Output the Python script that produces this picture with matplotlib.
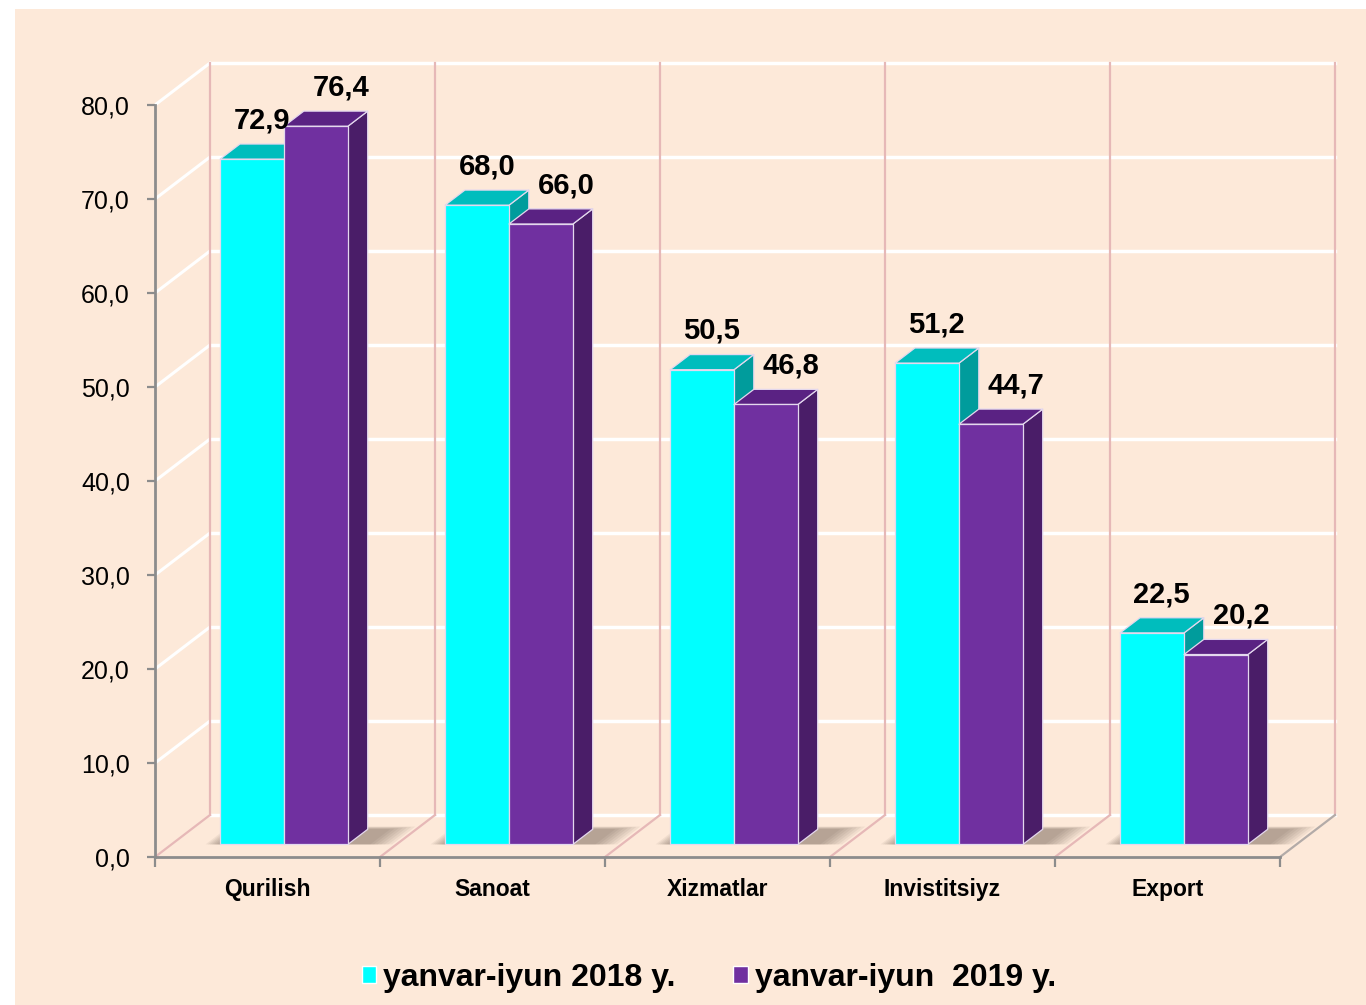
import numpy as np
import matplotlib.pyplot as plt
from matplotlib.patches import Polygon, Patch, Rectangle

categories = ['Qurilish', 'Sanoat', 'Xizmatlar', 'Invistitsiyz', 'Export']
vals_2018 = [72.9, 68.0, 50.5, 51.2, 22.5]
vals_2019 = [76.4, 66.0, 46.8, 44.7, 20.2]
series_names = ['yanvar-iyun 2018 y.', 'yanvar-iyun  2019 y.']
yticks = np.arange(0, 81, 10)

bg = '#FDE9D9'
pink = '#E6B8B7'
axis_gray = '#8C8C8C'
# front / top / side colours for each series
cols = [('#00FFFF', '#00BDBD', '#009C9C'),
        ('#7030A0', '#5A2283', '#4A1D68')]

plt.rcParams['font.family'] = ['Liberation Sans', 'DejaVu Sans']

fig = plt.figure(figsize=(13.66, 10.05), dpi=100, facecolor='white')
fig.add_artist(Rectangle((15 / 1366, 0), 1, (1005 - 9) / 1005,
                         transform=fig.transFigure, facecolor=bg,
                         edgecolor='none', zorder=-10))

ax = fig.add_axes([155 / 1366, 148 / 1005, 1125 / 1366, 752 / 1005])
ax.set_xlim(0, 5)
ax.set_ylim(0, 80)
ax.patch.set_visible(False)

# depth vector (data units) for the fake 3d look
DX = 55 / 225
DY = 42 / 9.4


def proj(x, v, d):
    return (x + d * DX, v + d * DY)


# back wall + side wall + floor
for v in yticks:
    a, b = proj(0, v, 1), proj(5, v, 1)
    ax.plot([a[0], b[0]], [a[1], b[1]], color='white', lw=2.5, zorder=1, clip_on=False)
    if v > 0:
        c = proj(0, v, 0)
        ax.plot([c[0], a[0]], [c[1], a[1]], color='white', lw=2.2, zorder=1, clip_on=False)
for i in range(6):
    a, b = proj(i, 0, 1), proj(i, 80, 1)
    ax.plot([a[0], b[0]], [a[1], b[1]], color=pink, lw=1.6, zorder=1.1, clip_on=False)
    c = proj(i, 0, 0)
    ax.plot([c[0], a[0]], [c[1], a[1]], color=pink if i < 5 else '#B3ABA8',
            lw=1.6, zorder=1.1, clip_on=False)

w = 0.284
d0, d1 = 0.3, 0.66

# soft shadows on the floor
for i in range(len(categories)):
    for k in range(7):
        m = 0.012 + k * 0.016
        xl = i + 0.5 - w - m * 0.6
        xr = i + 0.5 + w + DX * (d1 - d0) + m
        pts = [proj(xl, 0, d0), proj(xr, 0, d0), proj(xr, 0, d1 + m * 0.6), proj(xl, 0, d1 + m * 0.6)]
        ax.add_patch(Polygon(pts, closed=True, facecolor='#4A3B30', edgecolor='none',
                             alpha=0.065, zorder=2, clip_on=False))


def bar3d(x0, h, c):
    front = [proj(x0, 0, d0), proj(x0 + w, 0, d0), proj(x0 + w, h, d0), proj(x0, h, d0)]
    top = [proj(x0, h, d0), proj(x0 + w, h, d0), proj(x0 + w, h, d1), proj(x0, h, d1)]
    side = [proj(x0 + w, 0, d0), proj(x0 + w, 0, d1), proj(x0 + w, h, d1), proj(x0 + w, h, d0)]
    for pts, fc in ((side, c[2]), (top, c[1]), (front, c[0])):
        ax.add_patch(Polygon(pts, closed=True, facecolor=fc, edgecolor='#E4D8EE',
                             lw=0.9, zorder=3, clip_on=False, joinstyle='round'))


for i in range(len(categories)):
    for s, (vals, offx) in enumerate(((vals_2018, 7), (vals_2019, 18))):
        x0 = i + 0.5 - w + s * w
        h = vals[i]
        bar3d(x0, h, cols[s])
        ax.annotate(f'{h:.1f}'.replace('.', ','), xy=proj(x0 + w / 2, h, d0),
                    xytext=(offx, 28), textcoords='offset points',
                    ha='center', va='center', fontsize=21, fontweight='bold',
                    color='black', zorder=5, annotation_clip=False)

# axes
for sp in ('top', 'right'):
    ax.spines[sp].set_visible(False)
for sp in ('left', 'bottom'):
    ax.spines[sp].set_color(axis_gray)
    ax.spines[sp].set_linewidth(2)

ax.set_yticks(yticks)
ax.set_yticklabels([f'{v:.1f}'.replace('.', ',') for v in yticks])
ax.tick_params(axis='y', length=6, width=1.6, color=axis_gray, pad=12, labelsize=18)

ax.set_xticks(np.arange(6))
ax.set_xticklabels([])
ax.set_xticks(np.arange(len(categories)) + 0.5, minor=True)
ax.set_xticklabels(categories, minor=True, fontsize=16.5, fontweight='bold')
ax.tick_params(axis='x', which='major', length=7, width=1.6, color=axis_gray)
ax.tick_params(axis='x', which='minor', length=0, pad=15)

handles = [Patch(facecolor=cols[0][0], edgecolor='white'),
           Patch(facecolor=cols[1][0], edgecolor='white')]
fig.legend(handles, series_names, loc='center', bbox_to_anchor=(709 / 1366, 27 / 1005),
           ncol=2, frameon=False,
           prop=dict(family='Liberation Sans', weight='bold', size=23),
           handlelength=0.45, handleheight=0.45, handletextpad=0.22, columnspacing=1.8)

fig.savefig('out.png', dpi=100, facecolor=fig.get_facecolor())
